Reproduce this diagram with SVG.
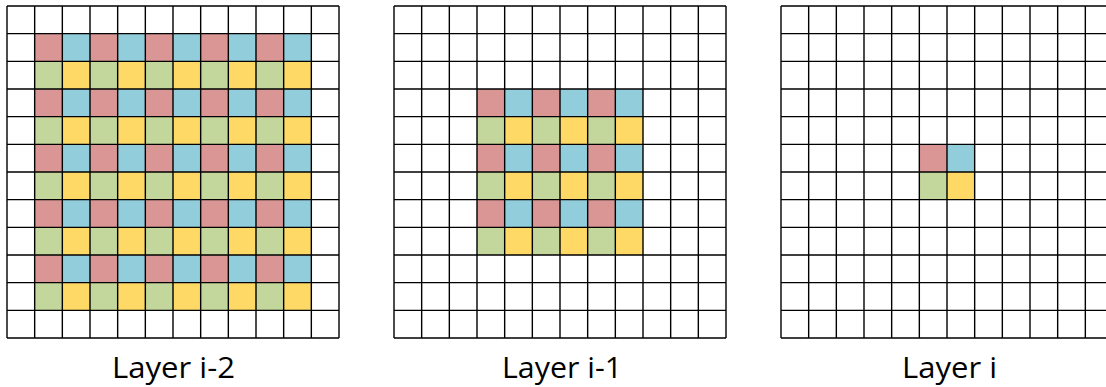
<svg xmlns="http://www.w3.org/2000/svg" xmlns:xlink="http://www.w3.org/1999/xlink" width="1106" height="387" viewBox="0 0 1106 387">
<style>
.lines{fill:none;stroke:#000;stroke-width:1.4}
.lbl{font-family:"Open Sans","Liberation Sans",sans-serif;font-size:29px;fill:#000;text-anchor:middle}
</style>
<defs>
<pattern id="tile" patternUnits="userSpaceOnUse" x="27.667" y="27.667" width="55.333" height="55.333">
<rect x="0" y="0" width="27.667" height="27.667" fill="#D99694"/>
<rect x="27.667" y="0" width="27.667" height="27.667" fill="#92CDDC"/>
<rect x="0" y="27.667" width="27.667" height="27.667" fill="#C3D69B"/>
<rect x="27.667" y="27.667" width="27.667" height="27.667" fill="#FFD966"/>
</pattern>
<path id="grid" class="lines" d="M0 0H332M0 27.667H332M0 55.333H332M0 83H332M0 110.667H332M0 138.333H332M0 166H332M0 193.667H332M0 221.333H332M0 249H332M0 276.667H332M0 304.333H332M0 332H332M0 0V332M27.667 0V332M55.333 0V332M83 0V332M110.667 0V332M138.333 0V332M166 0V332M193.667 0V332M221.333 0V332M249 0V332M276.667 0V332M304.333 0V332M332 0V332"/>
</defs>
<rect width="1106" height="387" fill="#fff"/>
<g id="layer-i-2" transform="translate(7,6)">
<rect x="27.667" y="27.667" width="276.667" height="276.667" fill="url(#tile)"/>
<use xlink:href="#grid"/>
</g>
<g id="layer-i-1" transform="translate(394,6)">
<rect x="83" y="83" width="166" height="166" fill="url(#tile)"/>
<use xlink:href="#grid"/>
</g>
<g id="layer-i" transform="translate(781,6)">
<rect x="138.333" y="138.333" width="55.333" height="55.333" fill="url(#tile)"/>
<use xlink:href="#grid"/>
</g>
<g id="labels">
<text class="lbl" x="173.5" y="378" textLength="123" lengthAdjust="spacingAndGlyphs">Layer i-2</text>
<text class="lbl" x="562" y="378" textLength="120" lengthAdjust="spacingAndGlyphs">Layer i-1</text>
<text class="lbl" x="949.5" y="378" textLength="95" lengthAdjust="spacingAndGlyphs">Layer i</text>
</g>
<g id="connectors"/>
</svg>
